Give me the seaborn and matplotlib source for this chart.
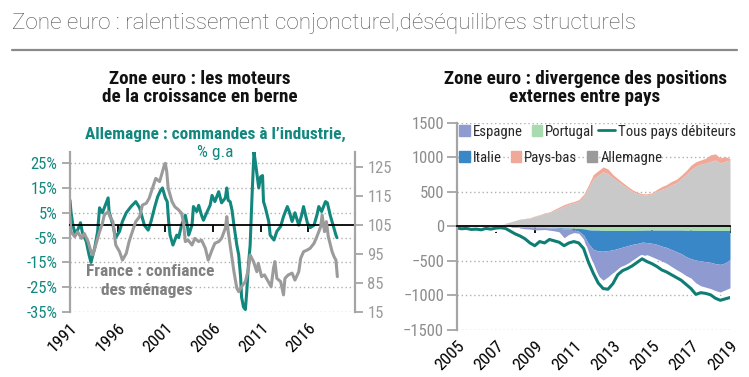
import matplotlib
matplotlib.use("Agg")
import matplotlib.pyplot as plt
import matplotlib.patheffects as pe
from matplotlib.patches import Patch, Rectangle
from matplotlib.lines import Line2D
from matplotlib.legend_handler import HandlerPatch
from matplotlib import font_manager
import seaborn as sns
import numpy as np

# ---- données, graphique de gauche ----
annees_de = [1991.0, 1991.1, 1991.3, 1991.5, 1991.8, 1992.1, 1992.3, 1992.7, 1993.0, 1993.2,
             1993.6, 1993.9, 1994.1, 1994.4, 1994.7, 1995.0, 1995.1, 1995.5, 1995.8, 1996.2,
             1996.5, 1996.9, 1997.4, 1997.9, 1998.3, 1998.8, 1999.2, 1999.5, 1999.9, 2000.2,
             2000.5, 2000.7, 2001.0, 2001.2, 2001.35, 2001.5, 2001.8, 2002.2, 2002.4, 2002.7,
             2003.1, 2003.3, 2003.45, 2003.8, 2003.95, 2004.3, 2004.5, 2004.8, 2005.0, 2005.4,
             2005.7, 2005.9, 2006.2, 2006.6, 2006.9, 2007.3, 2007.45, 2007.6, 2007.8, 2008.0,
             2008.2, 2008.5, 2008.7, 2008.9, 2009.0, 2009.2, 2009.4, 2009.55, 2009.7, 2009.9,
             2010.1, 2010.3, 2010.5, 2010.8, 2011.0, 2011.2, 2011.3, 2011.5, 2011.85, 2012.0,
             2012.4, 2012.7, 2013.1, 2013.4, 2013.8, 2014.0, 2014.3, 2014.6, 2015.0, 2015.3,
             2015.5, 2015.9, 2016.2, 2016.6, 2016.9, 2017.1, 2017.4, 2017.8, 2018.0, 2018.3,
             2018.6, 2018.9, 2019.0]
commandes_de = [10, 5.5, 0, -3, -2, 1, -3, -6.5, -12, -15,
                -9, -2.5, 7, 5, 8, 11, 5.5, 0, -5, -2.5,
                1.5, 5, 7.5, 9.5, 7, 0, -2, 1.5, 7.5, 11.5,
                14, 15, 11, 9.5, 1.5, -4, -8, -4, -5, 0,
                4, 0, -4, 0, 7.5, 5.5, 8, 4, 2, 5.5,
                8, 12, 9.5, 13.5, 9, 11, 15, 10, 9.5, 6,
                0, -8, -12, -21, -29, -33, -34, -26.5, -17, -8,
                12, 29.5, 24, 15, 19.5, 20, 9.5, 7, 1.5, -4,
                -6, -2.5, -0.5, 3.5, 7.5, 5.5, 1.5, 5, 0, 4,
                7.5, 1, -1, 0, 4, 7.5, 5.5, 9.5, 9, 4,
                0, -4, -5]

annees_fr = [1991.0, 1991.1, 1991.5, 1991.8, 1992.2, 1992.5, 1992.9, 1993.2, 1993.4, 1993.7,
             1994.1, 1994.4, 1994.6, 1995.0, 1995.2, 1995.5, 1995.8, 1996.2, 1996.5, 1996.9,
             1997.2, 1997.6, 1997.9, 1998.3, 1998.6, 1999.0, 1999.3, 1999.7, 2000.0, 2000.4,
             2000.7, 2000.9, 2001.0, 2001.15, 2001.3, 2001.7, 2002.0, 2002.4, 2002.7, 2002.9,
             2003.1, 2003.4, 2003.8, 2004.1, 2004.5, 2004.8, 2005.2, 2005.5, 2005.9, 2006.2,
             2006.6, 2006.9, 2007.3, 2007.45, 2007.6, 2007.8, 2008.0, 2008.2, 2008.5, 2008.7,
             2009.0, 2009.4, 2009.7, 2009.9, 2010.25, 2010.6, 2010.75, 2011.1, 2011.4, 2011.8,
             2012.1, 2012.35, 2012.5, 2012.7, 2013.1, 2013.4, 2013.55, 2013.9, 2014.3, 2014.6,
             2015.0, 2015.2, 2015.5, 2015.9, 2016.2, 2016.6, 2016.9, 2017.3, 2017.45, 2017.7,
             2017.9, 2018.1, 2018.5, 2018.7, 2018.9, 2019.05]
confiance_fr = [107.9, 102.7, 101, 102.7, 100.4, 102.1, 99.3, 95.8, 94.7, 98.1,
                102.7, 105.6, 108.5, 109.6, 107.9, 106.2, 98.1, 95.8, 92.9, 95.2,
                99.3, 103.3, 106.2, 107.9, 111.9, 112.5, 114.2, 118.2, 121.1, 120,
                123.4, 125.7, 126.3, 123.4, 117.7, 113.1, 111.3, 110.2, 109.1, 106.2,
                99.3, 99.8, 98.1, 100.4, 99.3, 99.8, 97, 92.9, 96.4, 98.7,
                99.3, 100.4, 103.9, 107.9, 102.7, 98.1, 93.5, 88.9, 83.2, 82,
                83.7, 85.5, 89.5, 94.7, 92.4, 88.9, 91.8, 87.2, 87.8, 85.5,
                83.7, 90.1, 92.4, 86.6, 85.5, 80.9, 86.6, 87.8, 88.4, 86,
                88.9, 93.5, 95.8, 96.4, 97, 98.7, 101, 104.4, 108.5, 102.7,
                106.2, 101, 95.8, 94.1, 92.9, 87.2]

ticks_gauche = [-35, -25, -15, -5, 5, 15, 25]
ticks_droite = [75, 85, 95, 105, 115, 125]
labels_droite = ["15", "85", "95", "105", "115", "125"]
annees_gauche = [1991, 1996, 2001, 2006, 2011, 2016]

# ---- données, graphique de droite (trimestriel, 2005-2019) ----
trimestres = np.arange(2005.0, 2019.01, 0.25)
allemagne = [0, 5, 5, 8, 10, 12, 10, 15, 15, 25, 45, 65, 85, 105, 110, 120,
             145, 165, 185, 200, 230, 260, 290, 320, 340, 360, 430, 560,
             690, 740, 790, 760, 700, 650, 600, 550, 505, 475, 458, 455,
             470, 510, 535, 560, 600, 630, 690, 750, 820, 870, 900, 915,
             940, 960, 915, 940, 960]
pays_bas = [0, 0, 0, 0, 0, 0, 0, 0, 0, 0, 0, 0, 0, 0, 5, 5,
            5, 5, 10, 10, 15, 20, 25, 20, 20, 25, 30, 40,
            60, 65, 70, 70, 50, 40, 35, 30, 25, 20, 15, 15,
            15, 25, 40, 45, 50, 50, 50, 55, 65, 65, 60, 70,
            95, 90, 75, 70, 20]
portugal = [-5, -5, -5, -5, -5, -5, -5, -5, -5, -5, -5, -5, -5, -10, -10, -10,
            -15, -15, -15, -20, -20, -20, -25, -25, -30, -30, -35, -50,
            -55, -55, -60, -60, -60, -60, -60, -60, -60, -58, -58, -55,
            -55, -55, -55, -55, -55, -55, -55, -58, -58, -58, -60, -60,
            -60, -60, -60, -60, -60]
italie = [-5, -5, -5, -5, -5, -5, -5, -5, -5, -5, -5, -5, -5, -5, -5, -5,
          -5, -5, -5, -5, -5, -10, -10, -10, -20, -40, -90, -200,
          -280, -300, -300, -290, -280, -260, -240, -220, -200, -190, -170, -180,
          -190, -205, -230, -250, -280, -310, -340, -380, -410, -430, -440, -450,
          -460, -480, -490, -470, -420]
espagne = [-20, -15, -10, -20, -10, -15, -5, -10, -5, 10, 30, 40, 20, -10, -20, -25,
           -30, -30, -25, -30, -40, -50, -130, -80, -40, -30, -60, -150,
           -200, -360, -420, -380, -330, -320, -300, -270, -230, -210, -200, -175,
           -195, -210, -215, -230, -245, -260, -270, -275, -280, -330, -360, -370,
           -380, -390, -400, -390, -410]
tous_debiteurs = [-25, -35, -30, -45, -40, -50, -30, -40, -25, -20, -30, -70,
                  -110, -140, -180, -240, -280, -220, -240, -190, -210, -230, -280, -240,
                  -220, -240, -320, -520, -680, -820, -900, -910, -830, -700, -640, -610,
                  -570, -520, -470, -510, -540, -580, -630, -660, -700, -740, -780, -840,
                  -900, -985, -960, -970, -990, -1040, -1070, -1050, -1030]
ticks_pos = [-1500, -1000, -500, 0, 500, 1000, 1500]
annees_droite = [2005, 2007, 2009, 2011, 2013, 2015, 2017, 2019]

# ---- couleurs ----
TEAL = "#12877e"
TEAL2 = "#0f7d74"
GRIS_LIGNE = "#9b9b9b"
GRIS_AXE = "#a5a5a5"
C_ALL, C_PB, C_PT, C_IT, C_ES = "#c9c9c9", "#f0a999", "#a9dbb1", "#3a87c7", "#8f9bd0"

# ---- polices ----
installed = {f.name for f in font_manager.fontManager.ttflist}
def pick(*names):
    for n in names:
        if n in installed:
            return n
    return "DejaVu Sans"

narrow = pick("Liberation Sans Narrow", "DejaVu Sans Condensed", "Roboto Condensed", "Liberation Sans")
light = pick("Roboto", "Lato", "Open Sans")

sns.set_theme(style="white")
plt.rcParams["font.family"] = [narrow, "DejaVu Sans"]

W, H = 749, 377
fig = plt.figure(figsize=(W / 100, H / 100), dpi=100)

def fx(px):
    return px / W

def fy(py):
    return 1 - py / H

# titre général
fig.text(fx(12), fy(23), "Zone euro : ralentissement conjoncturel,déséquilibres structurels",
         family=[light, "DejaVu Sans"], fontweight="light", fontsize=16.2, color="#555555",
         va="center", ha="left")
fig.add_artist(Line2D([fx(12), fx(737)], [fy(50), fy(50)], color="#8a8a8a", lw=1.6))

# ================= graphique de gauche =================
ax1 = fig.add_axes([fx(70), fy(312), fx(355) - fx(70), fy(152) - fy(312)])
sns.lineplot(x=annees_de, y=commandes_de, ax=ax1, color=TEAL, lw=2.2)
ax1.set_xlim(1991, 2020.9)
ax1.set_ylim(-35, 29.5)
ax1.set_yticks(ticks_gauche)
ax1.set_yticklabels([f"{v}%" for v in ticks_gauche])
ax1.yaxis.grid(True, linestyle=(0, (1, 2)), color="#b0b0b0", lw=1)
ax1.set_axisbelow(True)
ax1.tick_params(axis="y", left=True, length=6, width=1.3, color=GRIS_AXE,
                labelcolor=TEAL, labelsize=12, pad=3)
for s in ["top", "right"]:
    ax1.spines[s].set_visible(False)
ax1.spines["left"].set_color(GRIS_AXE)
ax1.spines["left"].set_linewidth(1.6)
ax1.spines["bottom"].set_position(("data", 0))
ax1.spines["bottom"].set_color("black")
ax1.spines["bottom"].set_linewidth(1.3)
ax1.set_xticks(annees_gauche)
ax1.tick_params(axis="x", bottom=True, direction="out", length=5, width=1.3,
                color="black", labelbottom=False)
ax1.set_xlabel("")
ax1.set_ylabel("")

sec1 = ax1.secondary_xaxis("bottom")
sec1.set_xticks(annees_gauche)
sec1.set_xticklabels([str(a) for a in annees_gauche], rotation=45, ha="right",
                     rotation_mode="anchor")
sec1.tick_params(length=0, pad=6, labelsize=12.5, labelcolor="black")
sec1.spines["bottom"].set_visible(False)

ax2 = ax1.twinx()
sns.lineplot(x=annees_fr, y=confiance_fr, ax=ax2, color=GRIS_LIGNE, lw=2.2)
ax2.set_ylim(75, 130.2)
ax2.set_yticks(ticks_droite)
ax2.set_yticklabels(labels_droite)
ax2.tick_params(axis="y", right=True, length=6, width=1.3, color=GRIS_AXE,
                labelcolor=GRIS_LIGNE, labelsize=12, pad=3)
ax2.grid(False)
for s in ["top", "left", "bottom"]:
    ax2.spines[s].set_visible(False)
ax2.spines["right"].set_color(GRIS_AXE)
ax2.spines["right"].set_linewidth(1.6)
ax2.set_ylabel("")

fig.text(fx(200), fy(79), "Zone euro : les moteurs", fontsize=13.8, fontweight="bold",
         ha="center", va="center", color="#111111")
fig.text(fx(200), fy(97), "de la croissance en berne", fontsize=13.8, fontweight="bold",
         ha="center", va="center", color="#111111")
fig.text(fx(215), fy(134), "Allemagne : commandes à l’industrie,", fontsize=12.4,
         fontweight="bold", ha="center", va="center", color=TEAL)
fig.text(fx(215), fy(153), "% g.a", fontsize=12.4, ha="center", va="center", color=TEAL)
fig.text(fx(150), fy(272), "France : confiance", fontsize=12.5, fontweight="bold",
         ha="center", va="center", color="#808080")
fig.text(fx(147), fy(291), "des ménages", fontsize=12.5, fontweight="bold",
         ha="center", va="center", color="#808080")

# ================= graphique de droite =================
ax3 = fig.add_axes([fx(456.7), fy(330), fx(730) - fx(456.7), fy(122.7) - fy(330)])
ax3.stackplot(trimestres, allemagne, pays_bas, colors=[C_ALL, C_PB], lw=0)
ax3.stackplot(trimestres, portugal, italie, espagne, colors=[C_PT, C_IT, C_ES], lw=0)
sns.lineplot(x=trimestres, y=tous_debiteurs, ax=ax3, color=TEAL2, lw=2.2,
             path_effects=[pe.Stroke(linewidth=5.5, foreground="white"), pe.Normal()])
ax3.set_xlim(2005, 2019)
ax3.set_ylim(-1500, 1500)
ax3.set_yticks(ticks_pos)
ax3.yaxis.grid(True, linestyle=(0, (1, 2)), color="#b0b0b0", lw=1)
ax3.set_axisbelow(True)
ax3.tick_params(axis="y", left=True, length=7, width=1.3, color=GRIS_AXE,
                labelcolor="#8c8c8c", labelsize=12, pad=2)
for s in ["top", "right"]:
    ax3.spines[s].set_visible(False)
ax3.spines["left"].set_color(GRIS_AXE)
ax3.spines["left"].set_linewidth(1.6)
ax3.spines["bottom"].set_position(("data", 0))
ax3.spines["bottom"].set_color("black")
ax3.spines["bottom"].set_linewidth(1.3)
ax3.spines["bottom"].set_zorder(5)
ax3.set_xticks(annees_droite)
ax3.tick_params(axis="x", bottom=True, direction="out", length=5, width=1.3,
                color="black", labelbottom=False)
ax3.set_xlabel("")
ax3.set_ylabel("")

sec3 = ax3.secondary_xaxis("bottom")
sec3.set_xticks(annees_droite)
sec3.set_xticklabels([str(a) for a in annees_droite], rotation=45, ha="right",
                     rotation_mode="anchor")
sec3.tick_params(length=0, pad=6, labelsize=12.5, labelcolor="black")
sec3.spines["bottom"].set_visible(False)

fig.text(fx(585), fy(79), "Zone euro : divergence des positions", fontsize=13.8,
         fontweight="bold", ha="center", va="center", color="#111111")
fig.text(fx(585), fy(97), "externes entre pays", fontsize=13.8, fontweight="bold",
         ha="center", va="center", color="#111111")

# légende en deux lignes
def carre(legend, orig_handle, xdescent, ydescent, width, height, fontsize):
    return Rectangle((-xdescent + width - height, -ydescent), height, height)

hmap = {Patch: HandlerPatch(patch_func=carre)}
leg_kw = dict(loc="center left", frameon=False, ncol=3, fontsize=10.6, borderpad=0,
              borderaxespad=0, handlelength=1.15, handleheight=0.72, handletextpad=0.2,
              columnspacing=0.2, handler_map=hmap)
leg1 = ax3.legend(handles=[Patch(color=C_ES, label="Espagne"),
                           Patch(color=C_PT, label="Portugal"),
                           Line2D([], [], color=TEAL2, lw=2, label="Tous pays débiteurs")],
                  bbox_to_anchor=(-0.015, 0.957), **leg_kw)
ax3.add_artist(leg1)
ax3.legend(handles=[Patch(color=C_IT, label="Italie"),
                    Patch(color=C_PB, label="Pays-bas"),
                    Patch(color="#9a9a9a", label="Allemagne")],
           bbox_to_anchor=(-0.015, 0.831), **leg_kw)

fig.savefig("out.png", dpi=100)
